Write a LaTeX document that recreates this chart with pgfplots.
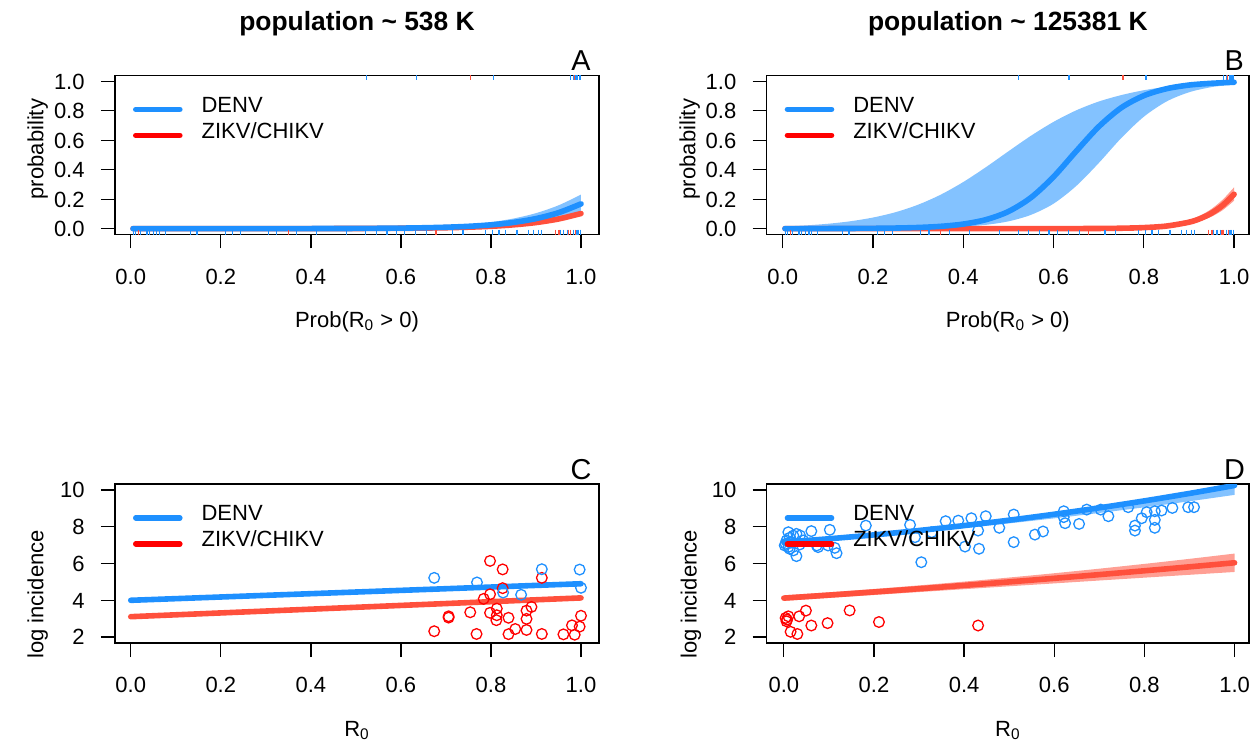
\documentclass[border=0pt]{standalone}
\usepackage{pgfplots}
\pgfplotsset{compat=1.18}
\usepackage{pgfplotstable}
\usepgfplotslibrary{fillbetween}
\usepackage{fontspec}
\setmainfont{Liberation Sans}

\definecolor{denv}{RGB}{30,144,255}
\definecolor{zikfit}{RGB}{255,80,60}
\definecolor{zikpt}{RGB}{255,0,0}

\newcommand\basefont{\fontsize{11}{13}\selectfont}
\newcommand\titlefont{\bfseries\fontsize{13.2}{16}\selectfont}
\newcommand\letterfont{\fontsize{14.4}{17}\selectfont}

% fitted probability curves: x, fit, lower, upper
\pgfplotstableread{
x c lo hi
0.005 0.0000 0.0000 0.0000
0.20 0.0001 0.0000 0.0002
0.40 0.0004 0.0000 0.0011
0.50 0.0012 0.0003 0.0027
0.60 0.0034 0.0018 0.0070
0.65 0.0057 0.0031 0.0111
0.70 0.0094 0.0052 0.0176
0.75 0.0155 0.0088 0.0279
0.80 0.0256 0.0148 0.0439
0.85 0.0420 0.0247 0.0685
0.90 0.0680 0.0411 0.1050
0.95 0.1080 0.0675 0.1580
1.00 0.1680 0.1090 0.2310
}\Adenv
\pgfplotstableread{
x c lo hi
0.005 0.0000 0.0000 0.0000
0.40 0.0001 0.0001 0.0002
0.60 0.0022 0.0019 0.0027
0.65 0.0037 0.0031 0.0043
0.70 0.0059 0.0050 0.0070
0.75 0.0097 0.0082 0.0114
0.80 0.0157 0.0134 0.0184
0.85 0.0256 0.0218 0.0297
0.90 0.0411 0.0353 0.0475
0.95 0.0654 0.0565 0.0753
1.00 0.1025 0.0895 0.1171
}\Azik
\pgfplotstableread{
x c lo hi
0.005 0.0001 0.0001 0.0145
0.05 0.0002 0.0001 0.0216
0.10 0.0004 0.0002 0.0329
0.15 0.0009 0.0004 0.0500
0.20 0.0019 0.0008 0.0752
0.25 0.0038 0.0017 0.1115
0.30 0.0076 0.0033 0.1625
0.35 0.0154 0.0066 0.2306
0.40 0.0308 0.0130 0.3165
0.45 0.0607 0.0256 0.4170
0.50 0.1161 0.0493 0.5250
0.55 0.2108 0.0935 0.6307
0.60 0.3520 0.1694 0.7251
0.65 0.5250 0.2890 0.8030
0.70 0.6920 0.4450 0.8630
0.75 0.8210 0.6150 0.9068
0.80 0.9030 0.7600 0.9400
0.85 0.9500 0.8630 0.9630
0.90 0.9750 0.9260 0.9800
0.95 0.9870 0.9610 0.9910
1.00 0.9940 0.9800 0.9960
}\Bdenv
\pgfplotstableread{
x c lo hi
0.005 0.0000 0.0000 0.0000
0.60 0.0002 0.0001 0.0003
0.70 0.0010 0.0007 0.0015
0.75 0.0026 0.0018 0.0038
0.80 0.0068 0.0047 0.0096
0.85 0.0173 0.0124 0.0238
0.90 0.0435 0.0323 0.0579
0.925 0.0682 0.0515 0.0889
0.95 0.1053 0.0813 0.1341
0.975 0.1591 0.1259 0.1975
1.00 0.2333 0.1900 0.2809
}\Bzik
% fitted log incidence
\pgfplotstableread{
x c lo hi
0 4.00 3.94 4.06
1 4.90 4.84 4.96
}\Cdenv
\pgfplotstableread{
x c lo hi
0 3.11 3.05 3.17
1 4.13 4.07 4.19
}\Czik
\pgfplotstableread{
x c lo hi
0.0 7.160 7.100 7.220
0.1 7.344 7.280 7.410
0.2 7.555 7.477 7.627
0.3 7.794 7.694 7.872
0.4 8.061 7.929 8.145
0.5 8.355 8.182 8.445
0.6 8.677 8.455 8.773
0.7 9.026 8.746 9.128
0.8 9.403 9.055 9.511
0.9 9.808 9.383 9.922
1.0 10.240 9.730 10.360
}\Ddenv
\pgfplotstableread{
x c lo hi
0.0 4.120 3.970 4.270
0.1 4.283 4.130 4.437
0.2 4.453 4.289 4.617
0.3 4.629 4.448 4.811
0.4 4.811 4.605 5.017
0.5 5.000 4.763 5.238
0.6 5.195 4.919 5.471
0.7 5.397 5.076 5.719
0.8 5.605 5.231 5.979
0.9 5.819 5.386 6.253
1.0 6.040 5.540 6.540
}\Dzik

\tikzset{lab/.style={inner sep=0pt, font=\basefont}}

\pgfplotsset{
  layers/legend below data/.define layer set={axis background,axis grid,axis ticks,axis lines,axis tick labels,axis descriptions,pre main,main,axis foreground}{},
  panel/.style={
    set layers=legend below data,
    scale only axis,
    anchor=south west,
    height=79.5pt,
    clip mode=individual,
    axis line style={line width=0.65pt},
    every tick/.style={line width=0.65pt, black},
    tick align=outside,
    major tick length=7pt,
    xtick pos=bottom, ytick pos=left,
    ticklabel style={font=\basefont, inner sep=0pt},
    xticklabel style={anchor=base, yshift=-17.85pt},
    yticklabel style={anchor=base east, xshift=-8pt, yshift=-3.94pt},
    xtick={0,0.2,0.4,0.6,0.8,1},
    xticklabels={0.0,0.2,0.4,0.6,0.8,1.0},
    title style={at={(0.5,1)}, anchor=base, yshift=16.4pt, inner sep=0pt, font=\titlefont},
    legend cell align=left,
    legend image code/.code={\draw[##1] (0pt,0pt) -- (22pt,0pt);},
    legend style={draw=none, fill=none, at={(0,1)}, anchor=north west,
      xshift=9pt, yshift=-10.45pt, inner sep=0pt, outer sep=0pt,
      row sep=0pt, font=\basefont,
      nodes={inner sep=0pt, text height=8pt, text depth=5pt},
      /tikz/every odd column/.append style={column sep=9.5pt}},
  },
  probpanel/.style={panel, ymin=-0.04, ymax=1.04,
    ytick={0,0.2,0.4,0.6,0.8,1}, yticklabels={0.0,0.2,0.4,0.6,0.8,1.0}},
  incpanel/.style={panel, ymin=1.68, ymax=10.32,
    ytick={2,4,6,8,10}, yticklabels={2,4,6,8,10}},
  fitline/.style={line width=2.8pt, line cap=round},
  band/.style={draw=none, fill opacity=0.55},
  rug/.style={only marks, mark=|, mark size=1.25pt, mark options={line width=0.6pt}},
  pts/.style={only marks, mark=o, mark size=2.67pt, mark options={line width=0.65pt}},
}

\begin{document}
\begin{tikzpicture}

% ---------------- A ----------------
\begin{axis}[probpanel, at={(57.5pt,255.75pt)}, width=242pt,
  xmin=-0.035, xmax=1.04, title={population \textasciitilde{} 538 K}]
\addlegendimage{denv, fitline}\addlegendentry{DENV}
\addlegendimage{zikpt, fitline}\addlegendentry{ZIKV/CHIKV}
\addplot[name path=adu, draw=none, smooth, forget plot] table[x=x,y=hi]{\Adenv};
\addplot[name path=adl, draw=none, smooth, forget plot] table[x=x,y=lo]{\Adenv};
\addplot[band, fill=denv, forget plot] fill between[of=adu and adl];
\addplot[name path=azu, draw=none, smooth, forget plot] table[x=x,y=hi]{\Azik};
\addplot[name path=azl, draw=none, smooth, forget plot] table[x=x,y=lo]{\Azik};
\addplot[band, fill=zikfit, forget plot] fill between[of=azu and azl];
\addplot[zikfit, fitline, smooth, forget plot] table[x=x,y=c]{\Azik};
\addplot[denv, fitline, smooth, forget plot] table[x=x,y=c]{\Adenv};
\addplot[rug, denv, forget plot] coordinates {
(0.006,-0.0238)(0.010,-0.0238)(0.021,-0.0238)(0.036,-0.0238)(0.041,-0.0238)(0.050,-0.0238)(0.058,-0.0238)(0.064,-0.0238)(0.077,-0.0238)(0.132,-0.0238)(0.147,-0.0238)(0.210,-0.0238)(0.226,-0.0238)(0.243,-0.0238)(0.306,-0.0238)(0.324,-0.0238)(0.369,-0.0238)(0.413,-0.0238)(0.480,-0.0238)(0.522,-0.0238)(0.545,-0.0238)(0.569,-0.0238)(0.590,-0.0238)(0.608,-0.0238)(0.633,-0.0238)(0.657,-0.0238)(0.714,-0.0238)(0.738,-0.0238)(0.788,-0.0238)(0.803,-0.0238)(0.818,-0.0238)(0.832,-0.0238)(0.858,-0.0238)(0.883,-0.0238)(0.894,-0.0238)(0.906,-0.0238)(0.912,-0.0238)(0.955,-0.0238)(0.962,-0.0238)(0.970,-0.0238)(0.984,-0.0238)(0.991,-0.0238)(0.995,-0.0238)(0.999,-0.0238)
(0.523,1.0238)(0.634,1.0238)(0.805,1.0238)(0.976,1.0238)(0.984,1.0238)(0.989,1.0238)(0.993,1.0238)(0.996,1.0238)(0.999,1.0238)};
\addplot[rug, zikfit, forget plot] coordinates {
(0.017,-0.0238)(0.350,-0.0238)(0.678,-0.0238)(0.943,-0.0238)(0.951,-0.0238)(0.973,-0.0238)(0.977,-0.0238)(0.987,-0.0238)
(0.754,1.0238)(0.986,1.0238)};
\node[anchor=base, inner sep=0pt, font=\letterfont, yshift=2.4pt] at (axis cs:1,1.04) {A};
\path (rel axis cs:0,0.5) ++(-46.5pt,0) node[lab, rotate=90] {probability};
\node[lab, anchor=base, yshift=-46.5pt] at (rel axis cs:0.5,0) {Prob(R\textsubscript{0} > 0)};
\end{axis}

% ---------------- B ----------------
\begin{axis}[probpanel, at={(383.35pt,255.75pt)}, width=241.15pt,
  xmin=-0.0355, xmax=1.033, title={population \textasciitilde{} 125381 K}]
\addlegendimage{denv, fitline}\addlegendentry{DENV}
\addlegendimage{zikpt, fitline}\addlegendentry{ZIKV/CHIKV}
\addplot[name path=bdu, draw=none, smooth, forget plot] table[x=x,y=hi]{\Bdenv};
\addplot[name path=bdl, draw=none, smooth, forget plot] table[x=x,y=lo]{\Bdenv};
\addplot[band, fill=denv, forget plot] fill between[of=bdu and bdl];
\addplot[name path=bzu, draw=none, smooth, forget plot] table[x=x,y=hi]{\Bzik};
\addplot[name path=bzl, draw=none, smooth, forget plot] table[x=x,y=lo]{\Bzik};
\addplot[band, fill=zikfit, forget plot] fill between[of=bzu and bzl];
\addplot[zikfit, fitline, smooth, forget plot] table[x=x,y=c]{\Bzik};
\addplot[denv, fitline, smooth, forget plot] table[x=x,y=c]{\Bdenv};
\addplot[rug, denv, forget plot] coordinates {
(0.006,-0.0238)(0.010,-0.0238)(0.021,-0.0238)(0.036,-0.0238)(0.041,-0.0238)(0.050,-0.0238)(0.058,-0.0238)(0.064,-0.0238)(0.077,-0.0238)(0.132,-0.0238)(0.147,-0.0238)(0.210,-0.0238)(0.226,-0.0238)(0.243,-0.0238)(0.306,-0.0238)(0.324,-0.0238)(0.369,-0.0238)(0.413,-0.0238)(0.480,-0.0238)(0.522,-0.0238)(0.545,-0.0238)(0.569,-0.0238)(0.590,-0.0238)(0.608,-0.0238)(0.633,-0.0238)(0.657,-0.0238)(0.714,-0.0238)(0.738,-0.0238)(0.788,-0.0238)(0.803,-0.0238)(0.818,-0.0238)(0.832,-0.0238)(0.858,-0.0238)(0.883,-0.0238)(0.894,-0.0238)(0.906,-0.0238)(0.912,-0.0238)(0.955,-0.0238)(0.962,-0.0238)(0.970,-0.0238)(0.984,-0.0238)(0.991,-0.0238)(0.995,-0.0238)(0.999,-0.0238)
(0.523,1.0238)(0.634,1.0238)(0.805,1.0238)(0.976,1.0238)(0.984,1.0238)(0.989,1.0238)(0.993,1.0238)(0.996,1.0238)(0.999,1.0238)};
\addplot[rug, zikfit, forget plot] coordinates {
(0.017,-0.0238)(0.350,-0.0238)(0.678,-0.0238)(0.943,-0.0238)(0.951,-0.0238)(0.973,-0.0238)(0.977,-0.0238)(0.987,-0.0238)
(0.754,1.0238)(0.986,1.0238)};
\node[anchor=base, inner sep=0pt, font=\letterfont, yshift=2.4pt] at (axis cs:1,1.04) {B};
\path (rel axis cs:0,0.5) ++(-46.5pt,0) node[lab, rotate=90] {probability};
\node[lab, anchor=base, yshift=-46.5pt] at (rel axis cs:0.5,0) {Prob(R\textsubscript{0} > 0)};
\end{axis}

% ---------------- C ----------------
\begin{axis}[incpanel, at={(57.5pt,51.5pt)}, width=242pt,
  xmin=-0.035, xmax=1.04]
\addlegendimage{denv, fitline}\addlegendentry{DENV}
\addlegendimage{zikpt, fitline}\addlegendentry{ZIKV/CHIKV}
\addplot[name path=cdu, draw=none, forget plot] table[x=x,y=hi]{\Cdenv};
\addplot[name path=cdl, draw=none, forget plot] table[x=x,y=lo]{\Cdenv};
\addplot[band, fill=denv, forget plot] fill between[of=cdu and cdl];
\addplot[name path=czu, draw=none, forget plot] table[x=x,y=hi]{\Czik};
\addplot[name path=czl, draw=none, forget plot] table[x=x,y=lo]{\Czik};
\addplot[band, fill=zikfit, forget plot] fill between[of=czu and czl];
\addplot[zikfit, fitline, forget plot] table[x=x,y=c]{\Czik};
\addplot[denv, fitline, forget plot] table[x=x,y=c]{\Cdenv};
\addplot[pts, zikpt, forget plot] coordinates {
(0.798,6.14)(0.826,5.68)(0.913,5.22)(0.826,4.66)(0.798,4.33)(0.784,4.08)(0.890,3.64)(0.879,3.44)(0.813,3.55)(0.754,3.35)(0.798,3.32)(0.813,3.19)(0.812,2.92)(0.839,3.05)(0.879,2.99)(0.706,3.13)(0.706,3.06)(1.000,3.16)(0.854,2.44)(0.879,2.39)(0.839,2.16)(0.674,2.32)(0.768,2.17)(0.913,2.17)(0.961,2.15)(0.980,2.64)(0.997,2.57)(0.986,2.13)};
\addplot[pts, denv, forget plot] coordinates {
(0.674,5.22)(0.769,4.97)(0.827,4.42)(0.867,4.30)(0.913,5.69)(0.997,5.67)(1.000,4.68)};
\node[anchor=base, inner sep=0pt, font=\letterfont, yshift=2.4pt] at (axis cs:1,10.32) {C};
\path (rel axis cs:0,0.5) ++(-46.5pt,0) node[lab, rotate=90] {log incidence};
\node[lab, anchor=base, yshift=-46.5pt] at (rel axis cs:0.5,0) {R\textsubscript{0}};
\end{axis}

% ---------------- D ----------------
\begin{axis}[incpanel, at={(383.35pt,51.5pt)}, width=241.15pt,
  xmin=-0.038, xmax=1.032]
\addlegendimage{denv, fitline}\addlegendentry{DENV}
\addlegendimage{zikpt, fitline}\addlegendentry{ZIKV/CHIKV}
\addplot[name path=ddu, draw=none, smooth, forget plot] table[x=x,y=hi]{\Ddenv};
\addplot[name path=ddl, draw=none, smooth, forget plot] table[x=x,y=lo]{\Ddenv};
\addplot[band, fill=denv, forget plot] fill between[of=ddu and ddl];
\addplot[name path=dzu, draw=none, smooth, forget plot] table[x=x,y=hi]{\Dzik};
\addplot[name path=dzl, draw=none, smooth, forget plot] table[x=x,y=lo]{\Dzik};
\addplot[band, fill=zikfit, forget plot] fill between[of=dzu and dzl];
\addplot[zikfit, fitline, smooth, forget plot] table[x=x,y=c]{\Dzik};
\addplot[denv, fitline, smooth, forget plot] table[x=x,y=c]{\Ddenv};
\addplot[pts, zikpt, forget plot] coordinates {
(0.004,3.04)(0.007,2.95)(0.010,3.13)(0.006,2.86)(0.034,3.13)(0.049,3.44)(0.061,2.63)(0.015,2.29)(0.030,2.17)(0.097,2.76)(0.146,3.45)(0.211,2.82)(0.431,2.63)};
\addplot[pts, denv, forget plot] coordinates {
(0.002,6.98)(0.004,7.07)(0.006,7.25)(0.010,7.70)(0.010,6.90)(0.013,7.40)(0.013,6.80)(0.015,7.13)(0.017,7.16)(0.021,7.52)(0.021,6.71)(0.028,7.61)(0.028,6.40)(0.036,7.52)(0.035,7.03)(0.043,7.25)(0.061,7.76)(0.073,6.98)(0.076,6.89)(0.098,6.98)(0.102,7.83)(0.113,6.85)(0.117,6.56)
(0.182,8.06)(0.280,8.10)(0.291,7.43)(0.305,6.07)(0.328,7.70)(0.359,8.30)(0.387,8.33)(0.402,6.92)(0.416,8.46)(0.431,7.79)(0.433,6.80)(0.448,8.57)(0.478,7.94)(0.510,8.66)(0.510,7.16)(0.557,7.57)(0.575,7.74)(0.621,8.84)(0.621,8.52)(0.624,8.19)(0.655,8.15)(0.672,8.93)(0.703,8.93)(0.720,8.57)(0.764,9.06)(0.779,8.06)(0.779,7.79)(0.794,8.46)(0.805,8.79)(0.823,8.84)(0.823,8.37)(0.823,7.94)(0.838,8.88)(0.862,9.02)(0.897,9.06)(0.910,9.06)};
\node[anchor=base, inner sep=0pt, font=\letterfont, yshift=2.4pt] at (axis cs:1,10.32) {D};
\path (rel axis cs:0,0.5) ++(-46.5pt,0) node[lab, rotate=90] {log incidence};
\node[lab, anchor=base, yshift=-46.5pt] at (rel axis cs:0.5,0) {R\textsubscript{0}};
\end{axis}

% page extent
\path (0pt,0pt) rectangle (630pt,373pt);
\end{tikzpicture}
\end{document}
